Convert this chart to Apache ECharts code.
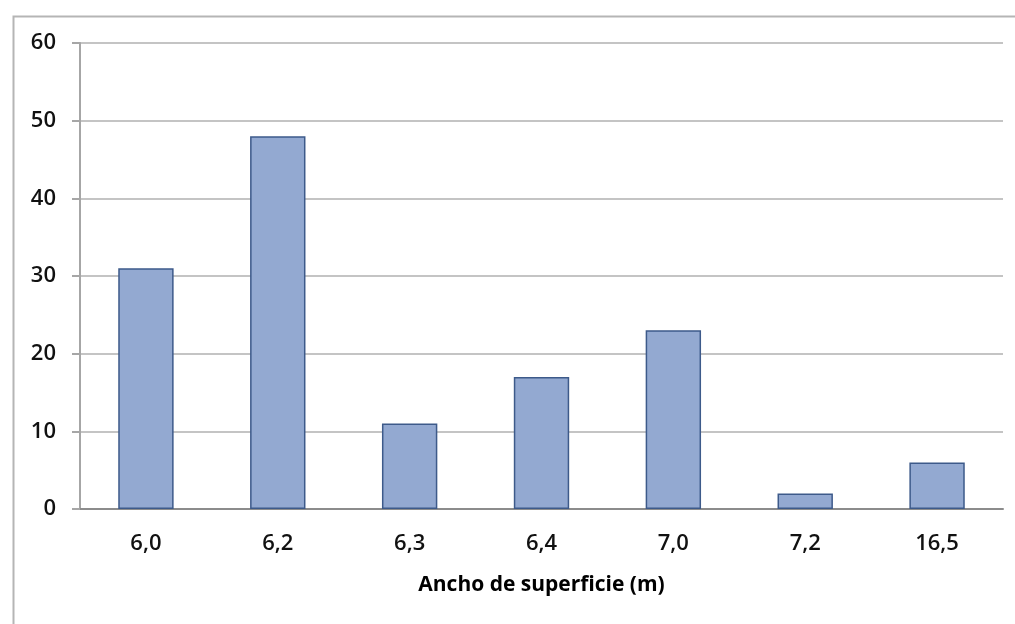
<!DOCTYPE html>
<html><head><meta charset="utf-8">
<script src="https://cdn.jsdelivr.net/npm/echarts@6/dist/echarts.min.js"></script>
<style>html,body{margin:0;padding:0;background:#fff}#c{width:1015px;height:624px}</style>
</head><body><div id="c"></div>
<script>
const categories = ['6,0','6,2','6,3','6,4','7,0','7,2','16,5'];
const values = [31, 48, 11, 17, 23, 2, 6];
const yTicks = [0, 10, 20, 30, 40, 50, 60];
const xTitle = 'Ancho de superficie (m)';

const chart = echarts.init(document.getElementById('c'), null, {renderer:'canvas'});
const font = '"Open Sans", "Noto Sans", sans-serif';
chart.setOption({
  backgroundColor: '#ffffff',
  animation: false,
  graphic: [{
    type: 'rect', left: 11, top: 14, silent: true,
    shape: {width: 1020, height: 620},
    style: {fill: 'none', stroke: '#b5b5b5', lineWidth: 2}
  }],
  grid: {left: 80, right: 12, top: 43, bottom: 115, containLabel: false},
  xAxis: {
    type: 'category', data: categories,
    name: xTitle, nameLocation: 'middle', nameGap: 66,
    nameTextStyle: {fontFamily: font, fontSize: 21, fontWeight: 'bold', color: '#000'},
    axisLine: {show: true, lineStyle: {color: '#8c8c8c', width: 2}},
    axisTick: {show: false},
    axisLabel: {fontFamily: font, fontSize: 22, fontWeight: 600, color: '#111', margin: 24}
  },
  yAxis: {
    type: 'value', min: yTicks[0], max: yTicks[yTicks.length-1], interval: 10,
    axisLine: {show: true, lineStyle: {color: '#a6a6a6', width: 2}},
    axisTick: {show: true, length: 8, lineStyle: {color: '#a6a6a6', width: 2}},
    axisLabel: {fontFamily: font, fontSize: 22, fontWeight: 600, color: '#111', margin: 24},
    splitLine: {show: true, lineStyle: {color: '#c4c4c4', width: 2}}
  },
  series: [{
    type: 'bar', data: values, barWidth: '42%',
    itemStyle: {color: '#93a9d1', borderColor: '#3d5a8a', borderWidth: 1.5}
  }]
});
</script></body></html>
